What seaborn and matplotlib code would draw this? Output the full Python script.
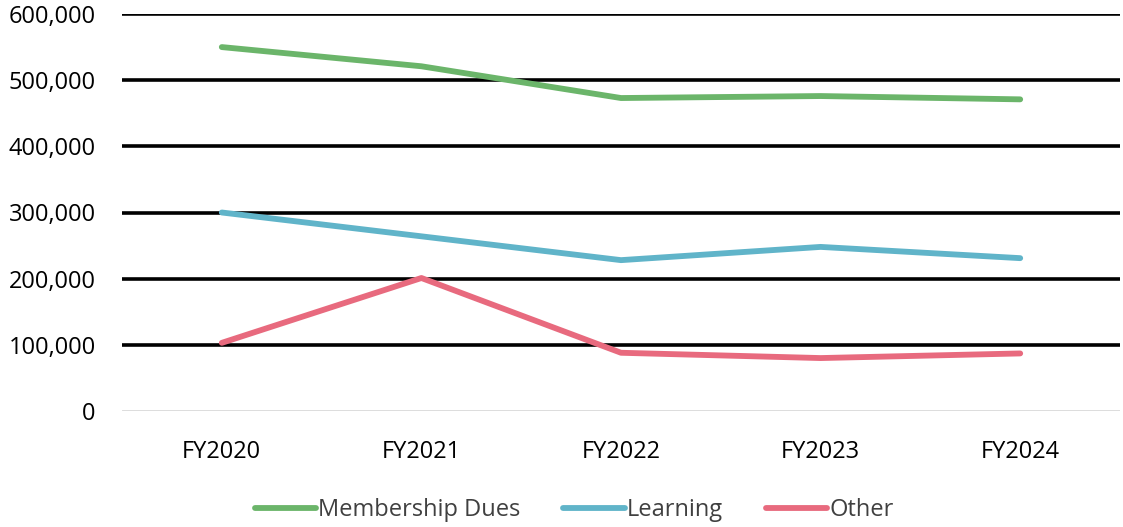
import matplotlib
matplotlib.use("Agg")
import matplotlib.pyplot as plt
import seaborn as sns
import pandas as pd
from matplotlib.ticker import FuncFormatter

years = ["FY2020", "FY2021", "FY2022", "FY2023", "FY2024"]
membership_dues = [550000, 521000, 473000, 476000, 471000]
learning = [300000, 264000, 228000, 248000, 231000]
other = [103000, 201000, 88000, 80000, 87000]
series_names = ["Membership Dues", "Learning", "Other"]
colors = ["#6BB56A", "#60B4C9", "#E86A7E"]

rows = []
for name, vals in zip(series_names, [membership_dues, learning, other]):
    for y, v in zip(years, vals):
        rows.append({"Year": y, "Value": v, "Series": name})
df = pd.DataFrame(rows)

sns.set_theme(style="white")
plt.rcParams["font.family"] = ["Open Sans", "DejaVu Sans"]

fig = plt.figure(figsize=(11.23, 5.27), dpi=100)
ax = fig.add_axes([122/1123, 1-411/527, (1120-122)/1123, (411-14)/527])

sns.lineplot(data=df, x="Year", y="Value", hue="Series", palette=colors,
             linewidth=4.2, ax=ax, sort=False, legend=True)
for ln in ax.get_lines():
    ln.set_solid_capstyle("round")
    ln.set_solid_joinstyle("round")

ax.set_xlim(-0.5, 4.5)
ax.set_ylim(0, 600000)
ax.set_yticks(range(0, 600001, 100000))
ax.yaxis.set_major_formatter(FuncFormatter(lambda v, p: f"{int(v):,}"))
for yv in range(100000, 600001, 100000):
    ax.axhline(yv, color="black", linewidth=2.6, zorder=0)
ax.axhline(0, color="#D9D9D9", linewidth=2, zorder=0)

for s in ax.spines.values():
    s.set_visible(False)
ax.grid(False)
ax.set_xlabel("")
ax.set_ylabel("")
ax.tick_params(axis="both", length=0, labelsize=17, labelcolor="black")
ax.tick_params(axis="x", pad=21)
ax.tick_params(axis="y", pad=19)

handles, labels = ax.get_legend_handles_labels()
for h in handles:
    h.set_linewidth(4.2)
    h.set_solid_capstyle("round")
leg = ax.legend(handles, labels, loc="center", bbox_to_anchor=(0.453, -0.25),
                ncol=3, frameon=False, fontsize=17, handlelength=2.6,
                handletextpad=0.1, columnspacing=1.8)
for t in leg.get_texts():
    t.set_color("#404040")

fig.savefig("out.png", dpi=100)
